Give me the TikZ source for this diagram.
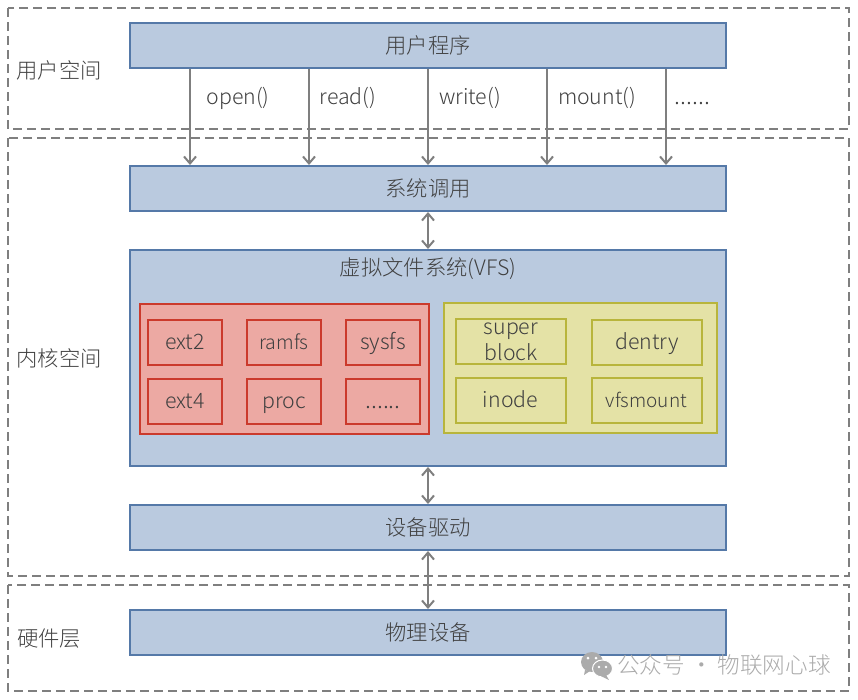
\documentclass[tikz,border=0pt]{standalone}
\usepackage{fontspec}
\setmainfont{Noto Sans CJK SC}[UprightFont=* Light]
\usetikzlibrary{arrows.meta}

\definecolor{bluefill}{HTML}{BACADF}
\definecolor{blueline}{HTML}{5579A8}
\definecolor{redfill}{HTML}{ECA9A3}
\definecolor{redline}{HTML}{CB3A2C}
\definecolor{yellowfill}{HTML}{E4E2A6}
\definecolor{yellowline}{HTML}{B8B53C}
\definecolor{txtgray}{HTML}{404040}
\definecolor{linegray}{HTML}{7F7F7F}
\definecolor{markgray}{HTML}{ABABAB}

\tikzset{
  every node/.style={text=txtgray, font=\fontsize{21.3}{25}\selectfont, inner sep=0pt},
  >={Straight Barb[length=7pt,width=12pt]},
  layer/.style={draw=linegray, line width=2pt, dash pattern=on 9pt off 5pt},
  bar/.style={draw=blueline, fill=bluefill, line width=2pt, minimum width=596pt, minimum height=45pt},
  latin/.style={text height=15pt, text depth=1pt},
  redbox/.style={draw=redline, fill=redfill, line width=2pt},
  fsbox/.style={redbox, latin, minimum width=74pt, minimum height=45pt},
  yellowbox/.style={draw=yellowline, fill=yellowfill, line width=2pt},
  objbox/.style={yellowbox, minimum width=110pt, minimum height=45pt, align=center},
  flow/.style={draw=linegray, line width=2pt},
}

\begin{document}
\begin{tikzpicture}[x=1pt,y=-1pt]
  \useasboundingbox (0,0) rectangle (858,699);
  % dashed layers
  \draw[layer] (8,8) rectangle (849,129);
  \draw[layer] (8,138) rectangle (849,576);
  \draw[layer] (8,585) rectangle (849,691);
  \node (userlabel) at (59,70) {用户空间};
  \node (kernellabel) at (59,358) {内核空间};
  \node (hwlabel) at (49,638.5) {硬件层};

  \node[bar] (prog) at (428,45.5) {用户程序};
  \node[bar] (syscall) at (428,188.5) {系统调用};
  \node[bar, minimum height=216pt] (vfs) at (428,358) {};
  \node (vfstitle) at (428,269) {虚拟文件系统(VFS)};
  \node[bar] (driver) at (428,527.5) {设备驱动};
  \node[bar] (device) at (428,632.5) {物理设备};

  % calls
  \foreach \off in {-238,-119,0,119,238}
    \draw[flow,->] ([xshift=\off]prog.south) -- ([xshift=\off]syscall.north);
  \node[latin] (open) at (238,97) {open()};
  \node[latin] (read) at (348,97) {read()};
  \node[latin] (write) at (470,97) {write()};
  \node[latin] (mount) at (597,97) {mount()};
  \node[latin] (more) at (692.5,97) {\fontsize{23.5}{25}\selectfont ......};

  \draw[flow,<->] (syscall) -- (vfs);
  \draw[flow,<->] (vfs) -- (driver);
  \draw[flow,<->] (driver) -- (device);

  % file systems
  \node[redbox, minimum width=289pt, minimum height=130pt] (fsgroup) at (284.5,369) {};
  \node[fsbox] (ext2) at (185,342.5) {ext2};
  \node[fsbox] (ramfs) at (284,342.5) {\fontsize{19.5}{20}\selectfont ramfs};
  \node[fsbox] (sysfs) at (383,342.5) {sysfs};
  \node[fsbox] (ext4) at (185,401) {ext4};
  \node[fsbox] (proc) at (284,401) {proc};
  \node[fsbox] (fsmore) at (383,401) {\fontsize{23.5}{25}\selectfont ......};

  % vfs objects
  \node[yellowbox, minimum width=273pt, minimum height=130pt] (objgroup) at (580.5,368) {};
  \node[objbox, font=\fontsize{21.3}{25.5}\selectfont] (super) at (511,341.5) {\raisebox{-1.5pt}{super}\\\raisebox{-2pt}{block}};
  \node[objbox, latin] (dentry) at (647,342.5) {dentry};
  \node[objbox, latin] (inode) at (510.5,400) {inode};
  \node[objbox, latin] (vfsmount) at (646.5,400) {\fontsize{19}{20}\selectfont vfsmount};

  % watermark
  \fill[markgray] (592,662) ellipse (11pt and 10pt);
  \fill[markgray] (585,670) -- (584,675) -- (590,671) -- cycle;
  \fill[white] (588,658) circle (1.5pt) (596,658) circle (1.5pt);
  \draw[markgray, fill=markgray, draw=white, line width=1pt] (602.5,668.5) ellipse (10pt and 8.5pt);
  \fill[markgray] (606,675) -- (609,680) -- (601,676) -- cycle;
  \fill[white] (599,667) circle (1.3pt) (606,667) circle (1.3pt);
  \node[text=markgray, font=\fontsize{22.6}{25}\selectfont] (mark) at (724,665) {公众号 · 物联网心球};
\end{tikzpicture}
\end{document}
